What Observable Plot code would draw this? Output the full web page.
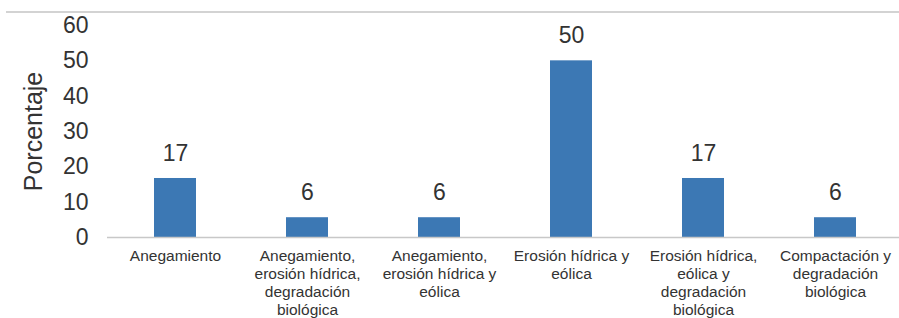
<!DOCTYPE html>
<html>
<head>
<meta charset="utf-8">
<script src="https://cdn.jsdelivr.net/npm/d3@7"></script>
<script src="https://cdn.jsdelivr.net/npm/@observablehq/plot@0.6"></script>
<style>
  html, body { margin: 0; padding: 0; background: #fff; }
  body { width: 899px; height: 318px; overflow: hidden; position: relative; font-family: "Liberation Sans", Arial, sans-serif; }
  #topline { position: absolute; left: 6px; top: 11px; width: 893px; height: 2px; background: #d3d3d3; }
  svg { display: block; }
</style>
</head>
<body>
<div id="chart"></div>
<div id="topline"></div>
<script>
const categories = [
  "Anegamiento",
  "Anegamiento,\nerosión hídrica,\ndegradación\nbiológica",
  "Anegamiento,\nerosión hídrica y\neólica",
  "Erosión hídrica y\neólica",
  "Erosión hídrica,\neólica y\ndegradación\nbiológica",
  "Compactación y\ndegradación\nbiológica"
];
const values = [16.7, 5.6, 5.6, 50, 16.7, 5.6];
const valueLabels = ["17", "6", "6", "50", "17", "6"];
const yTicks = [0, 10, 20, 30, 40, 50, 60];
const yLabel = "Porcentaje";

const data = categories.map((c, i) => ({cat: c, value: values[i], label: valueLabels[i]}));

const chart = Plot.plot({
  width: 899,
  height: 318,
  marginLeft: 107,
  marginRight: -5,
  marginTop: 25,
  marginBottom: 81,
  style: {fontFamily: "'Liberation Sans', Arial, sans-serif", color: "#333", background: "transparent"},
  x: {domain: categories, paddingInner: 0.68, paddingOuter: 0.34, label: null},
  y: {domain: [0, 60], label: null},
  marks: [
    Plot.barY(data, {x: "cat", y: "value", fill: "#3c78b4"}),
    Plot.ruleY([0], {stroke: "#c8c8c8", strokeWidth: 1.5}),
    Plot.text(data, {x: "cat", y: "value", text: "label", dy: -25, fontSize: 23, fill: "#333", lineAnchor: "middle"}),
    Plot.axisY({ticks: yTicks, tickSize: 0, tickPadding: 19, fontSize: 23, label: null, fill: "#333"}),
    Plot.axisX({tickSize: 0, tickPadding: 11, fontSize: 15.5, lineHeight: 1.15, label: null, tickFormat: d => d, fill: "#333", lineAnchor: "top"}),
    Plot.text([yLabel], {frameAnchor: "left", rotate: -90, dx: -74, fontSize: 25, fill: "#333", lineAnchor: "middle", textAnchor: "middle"})
  ]
});
document.getElementById("chart").appendChild(chart);
</script>
</body>
</html>
